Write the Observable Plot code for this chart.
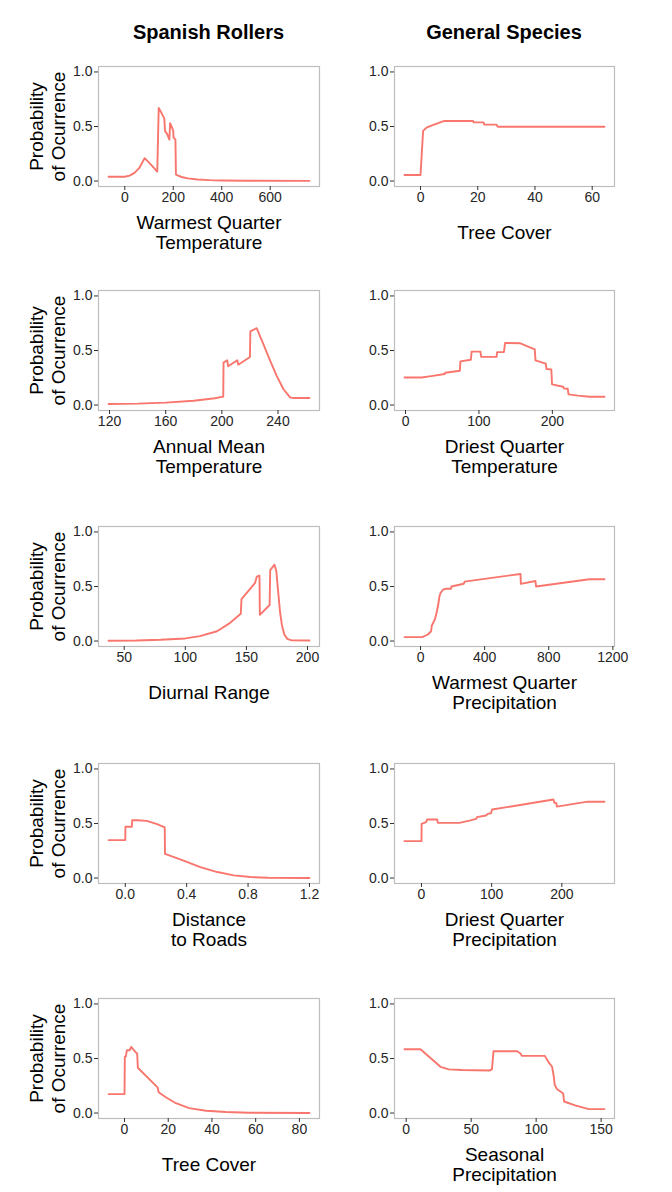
<!DOCTYPE html>
<html><head><meta charset="utf-8">
<script src="https://cdn.jsdelivr.net/npm/d3@7"></script>
<script src="https://cdn.jsdelivr.net/npm/@observablehq/plot@0.6"></script>
<style>
body{margin:0;background:#fff;font-family:"Liberation Sans",Arial,sans-serif;}
#root{position:relative;width:672px;height:1192px;overflow:hidden;}
.col-title{position:absolute;top:20px;font-weight:bold;font-size:20px;line-height:24px;transform:translateX(-50%);white-space:nowrap;color:#000;}
.panel{position:absolute;}
</style></head><body><div id="root"></div>
<script>
// Column titles
const columnTitles = ["Spanish Rollers", "General Species"];
const yAxisTitle = "Probability\nof Ocurrence";
const yTicks = [0, 0.5, 1];

// Spanish Rollers – Warmest Quarter Temperature
const srWqtX = [-67, 0, 20, 40, 60, 82, 108, 134, 140, 150, 163, 166, 175, 184, 187, 195, 200, 201, 209, 211, 220, 235, 260, 300, 350, 400, 500, 762];
const srWqtY = [0.039, 0.039, 0.05, 0.075, 0.12, 0.21, 0.15, 0.087, 0.67, 0.63, 0.575, 0.46, 0.43, 0.38, 0.53, 0.49, 0.46, 0.40, 0.38, 0.06, 0.05, 0.037, 0.025, 0.014, 0.008, 0.005, 0.003, 0.002];
const srWqtTicks = [0, 200, 400, 600];

// General Species – Tree Cover
const gsTcX = [-5.6, 0, 0.9, 2.1, 4.7, 8.1, 18.4, 18.6, 22, 22.3, 26.5, 27, 64.3];
const gsTcY = [0.055, 0.055, 0.46, 0.49, 0.517, 0.55, 0.55, 0.538, 0.538, 0.517, 0.517, 0.498, 0.498];
const gsTcTicks = [0, 20, 40, 60];

// Spanish Rollers – Annual Mean Temperature
const srAmtX = [119.3, 140, 160, 180, 195, 201, 201.2, 203.8, 204.5, 211, 211.7, 220, 220.3, 224.8, 229.5, 234.3, 239, 243.8, 248.6, 251, 262.4];
const srAmtY = [0.01, 0.013, 0.022, 0.04, 0.062, 0.077, 0.39, 0.41, 0.355, 0.41, 0.37, 0.44, 0.675, 0.705, 0.56, 0.41, 0.27, 0.147, 0.07, 0.064, 0.064];
const srAmtTicks = [120, 160, 200, 240];

// General Species – Driest Quarter Temperature
const gsDqtX = [-1.4, 21.8, 35, 53.5, 54, 74, 74.8, 89, 90, 102, 103, 124, 124.7, 134, 135.6, 155.6, 176, 177, 191, 192, 198.6, 199.5, 214.5, 216, 221, 222, 235, 250.8, 271];
const gsDqtY = [0.253, 0.253, 0.265, 0.284, 0.296, 0.314, 0.40, 0.415, 0.49, 0.49, 0.442, 0.442, 0.485, 0.485, 0.57, 0.567, 0.51, 0.41, 0.38, 0.33, 0.326, 0.19, 0.168, 0.152, 0.149, 0.098, 0.086, 0.076, 0.076];
const gsDqtTicks = [0, 100, 200];

// Spanish Rollers – Diurnal Range
const srDrX = [37.2, 60, 80, 100, 112, 126, 136.7, 145.4, 146, 157, 158.5, 160.7, 161, 169, 169.5, 173, 174.5, 176, 177.5, 179, 181, 183.5, 187, 201.6];
const srDrY = [0.003, 0.005, 0.012, 0.024, 0.045, 0.09, 0.167, 0.25, 0.385, 0.53, 0.59, 0.60, 0.24, 0.33, 0.65, 0.70, 0.64, 0.45, 0.27, 0.15, 0.06, 0.02, 0.006, 0.005];
const srDrTicks = [50, 100, 150, 200];

// General Species – Warmest Quarter Precipitation
const gsWqpX = [-100, 10, 46, 66, 70, 90, 100, 110, 118, 125, 140, 160, 191, 193, 270, 275, 624, 626, 717, 721, 1054, 1148];
const gsWqpY = [0.036, 0.036, 0.06, 0.09, 0.14, 0.2, 0.26, 0.33, 0.41, 0.44, 0.47, 0.48, 0.48, 0.5, 0.525, 0.545, 0.615, 0.524, 0.55, 0.50, 0.567, 0.567];
const gsWqpTicks = [0, 400, 800, 1200];

// Spanish Rollers – Distance to Roads
const srDtrX = [-0.109, 0, 0.001, 0.043, 0.045, 0.08, 0.141, 0.207, 0.257, 0.259, 0.38, 0.489, 0.6, 0.707, 0.815, 0.93, 1.2];
const srDtrY = [0.348, 0.348, 0.47, 0.47, 0.53, 0.53, 0.524, 0.494, 0.464, 0.221, 0.16, 0.10, 0.055, 0.024, 0.009, 0.003, 0.0];
const srDtrTicks = [0, 0.4, 0.8, 1.2];

// General Species – Driest Quarter Precipitation
const gsDqpX = [-24.2, 0, 0.2, 6.6, 8, 22.3, 23.3, 54, 68.4, 78, 79, 92, 94.5, 99, 100.7, 188, 189.5, 192, 193, 237, 260.8];
const gsDqpY = [0.338, 0.338, 0.497, 0.512, 0.537, 0.537, 0.506, 0.506, 0.527, 0.543, 0.558, 0.573, 0.588, 0.594, 0.628, 0.72, 0.689, 0.689, 0.655, 0.70, 0.70];
const gsDqpTicks = [0, 100, 200];

// Spanish Rollers – Tree Cover
const srTcX = [-7.3, 0, 0.15, 0.6, 1.1, 2.4, 3.05, 5.2, 5.8, 6.1, 15.1, 15.6, 18.9, 23.5, 29.6, 37.3, 46.4, 57, 84.6];
const srTcY = [0.173, 0.173, 0.515, 0.52, 0.576, 0.576, 0.606, 0.555, 0.545, 0.415, 0.236, 0.19, 0.145, 0.09, 0.045, 0.021, 0.009, 0.003, 0.0];
const srTcTicks = [0, 20, 40, 60, 80];

// General Species – Seasonal Precipitation
const gsSpX = [-1.3, 11, 26.4, 32.8, 43, 64, 66, 67.2, 85.4, 88, 89, 106.7, 109.7, 112.3, 113.6, 114.3, 116, 120.8, 121.5, 130, 140.5, 152.6];
const gsSpY = [0.585, 0.585, 0.424, 0.40, 0.394, 0.39, 0.40, 0.567, 0.567, 0.545, 0.524, 0.524, 0.464, 0.424, 0.333, 0.258, 0.22, 0.18, 0.106, 0.07, 0.036, 0.036];
const gsSpTicks = [0, 50, 100, 150];

const panels = [
  {xs: srWqtX, ys: srWqtY, ticks: srWqtTicks, label: "Warmest Quarter\nTemperature", col: 0, row: 0},
  {xs: gsTcX, ys: gsTcY, ticks: gsTcTicks, label: "Tree Cover", col: 1, row: 0},
  {xs: srAmtX, ys: srAmtY, ticks: srAmtTicks, label: "Annual Mean\nTemperature", col: 0, row: 1},
  {xs: gsDqtX, ys: gsDqtY, ticks: gsDqtTicks, label: "Driest Quarter\nTemperature", col: 1, row: 1},
  {xs: srDrX, ys: srDrY, ticks: srDrTicks, label: "Diurnal Range", col: 0, row: 2},
  {xs: gsWqpX, ys: gsWqpY, ticks: gsWqpTicks, label: "Warmest Quarter\nPrecipitation", col: 1, row: 2},
  {xs: srDtrX, ys: srDtrY, ticks: srDtrTicks, label: "Distance\nto Roads", col: 0, row: 3, fmt: ".1f"},
  {xs: gsDqpX, ys: gsDqpY, ticks: gsDqpTicks, label: "Driest Quarter\nPrecipitation", col: 1, row: 3},
  {xs: srTcX, ys: srTcY, ticks: srTcTicks, label: "Tree Cover", col: 0, row: 4},
  {xs: gsSpX, ys: gsSpY, ticks: gsSpTicks, label: "Seasonal\nPrecipitation", col: 1, row: 4}
];

const root = document.getElementById("root");
const font = "'Liberation Sans', Arial, sans-serif";
const frameTops = [66, 290, 526, 763, 998];
const W = 336, H = 200, MT = 10, MB = 70;
const colCenters = [208.5, 504];

columnTitles.forEach((t, i) => {
  const d = document.createElement("div");
  d.className = "col-title";
  d.style.left = colCenters[i] + "px";
  d.textContent = t;
  root.appendChild(d);
});

for (const p of panels) {
  const data = p.xs.map((x, i) => ({x, y: p.ys[i]}));
  const [x0, x1] = d3.extent(p.xs);
  const pad = (x1 - x0) * 0.05;
  const ml = p.col === 0 ? 98 : 58;
  const mr = p.col === 0 ? 17 : 58;
  const marks = [
    Plot.frame({stroke: "#bdbdbd", strokeWidth: 1.2}),
    Plot.axisX({ticks: p.ticks, tickFormat: p.fmt ? d3.format(p.fmt) : d3.format("d"), tickSize: 4, tickPadding: 2, label: null, fontSize: 14, fill: "#262626", stroke: "#333"}),
    Plot.axisY({ticks: yTicks, tickFormat: d3.format(".1f"), tickSize: 4, tickPadding: 2, label: null, fontSize: 14, fill: "#262626", stroke: "#333"}),
    Plot.line(data, {x: "x", y: "y", stroke: "#F8766D", strokeWidth: 1.9}),
    Plot.text([p.label], {frameAnchor: "bottom", lineAnchor: "middle", textAnchor: "middle", dy: 46, fontSize: 19, lineHeight: 1.05, fill: "#000"})
  ];
  if (p.col === 0) {
    marks.push(Plot.text([yAxisTitle], {frameAnchor: "left", lineAnchor: "middle", textAnchor: "middle", rotate: -90, dx: -52, fontSize: 19, lineHeight: 1.16, fill: "#000"}));
  }
  const svg = Plot.plot({
    width: W, height: H,
    marginTop: MT, marginBottom: MB, marginLeft: ml, marginRight: mr,
    style: {fontFamily: font, background: "transparent", color: "#333", overflow: "visible"},
    x: {domain: [x0 - pad, x1 + pad]},
    y: {domain: [-0.05, 1.05]},
    marks
  });
  svg.classList.add("panel");
  svg.style.left = (p.col * W) + "px";
  svg.style.top = (frameTops[p.row] - MT) + "px";
  root.appendChild(svg);
}
</script></body></html>
